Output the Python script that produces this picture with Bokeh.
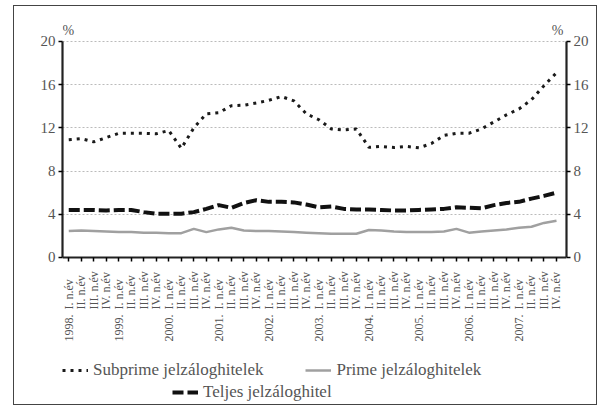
import math
from bokeh.plotting import figure
from bokeh.models import (ColumnDataSource, LinearAxis, FixedTicker, LabelSet,
                          Label, Legend, LegendItem, Range1d)
from bokeh.embed import file_html
from bokeh.resources import INLINE

# ---- data ----
years = ["1998.", "1999.", "2000.", "2001.", "2002.", "2003.", "2004.", "2005.", "2006.", "2007."]
quarters = ["I. n.év", "II. n.év", "III. n.év", "IV. n.év"]

subprime = [10.9, 11.0, 10.7, 11.1, 11.5, 11.5, 11.5, 11.45, 11.75, 10.1,
            12.0, 13.3, 13.4, 14.05, 14.1, 14.3, 14.55, 14.9, 14.5, 13.3,
            12.75, 11.9, 11.8, 11.9, 10.2, 10.28, 10.18, 10.28, 10.15, 10.55,
            11.3, 11.5, 11.5, 11.9, 12.55, 13.2, 13.75, 14.6, 15.9, 17.1]
prime = [2.45, 2.5, 2.45, 2.4, 2.35, 2.35, 2.3, 2.3, 2.25, 2.25,
         2.65, 2.35, 2.6, 2.75, 2.5, 2.45, 2.45, 2.4, 2.35, 2.3,
         2.25, 2.2, 2.2, 2.2, 2.55, 2.5, 2.4, 2.35, 2.35, 2.35,
         2.4, 2.65, 2.3, 2.4, 2.5, 2.6, 2.75, 2.85, 3.2, 3.4]
teljes = [4.4, 4.4, 4.4, 4.35, 4.4, 4.4, 4.2, 4.05, 4.05, 4.05,
          4.2, 4.5, 4.85, 4.6, 5.05, 5.3, 5.15, 5.15, 5.1, 4.9,
          4.65, 4.72, 4.5, 4.45, 4.45, 4.4, 4.35, 4.35, 4.4, 4.45,
          4.5, 4.65, 4.6, 4.55, 4.85, 5.05, 5.15, 5.45, 5.7, 6.0]
y_ticks = [0, 4, 8, 12, 16, 20]
series_names = ["Subprime jelzáloghitelek", "Prime jelzáloghitelek", "Teljes jelzáloghitel"]

FONT = "Liberation Serif"
TXT = "#555555"

n = len(subprime)
xs = list(range(n))
x_lo, x_hi = -0.5, n - 0.2
y_lo, y_hi = 0, 20
# the frame extends below the axis so that labels and legend live inside it
view_lo, view_hi = -13.61, 22.31

src = ColumnDataSource(dict(x=xs, sub=subprime, pri=prime, tel=teljes))

p = figure(width=584, height=400, output_backend="svg", toolbar_location=None,
           x_range=Range1d(x_lo, x_hi), y_range=Range1d(view_lo, view_hi),
           min_border_left=48, min_border_right=32, min_border_top=10, min_border_bottom=2)
p.margin = (5, 0, 0, 13)
p.styles = {"border": "1px solid #444444"}
p.outline_line_color = None
p.background_fill_color = "white"
p.border_fill_color = "white"

# lines
r_sub = p.line("x", "sub", source=src, line_color="#1a1a1a", line_width=3,
               line_dash="3 5")
r_pri = p.line("x", "pri", source=src, line_color="#a0a0a0", line_width=2.5)
r_tel = p.line("x", "tel", source=src, line_color="#111111", line_width=4,
               line_dash="11 4")

# y axes
ytick = FixedTicker(ticks=y_ticks)
p.yaxis.ticker = ytick
ax_r = LinearAxis(ticker=ytick)
p.add_layout(ax_r, "right")
for ax in (p.yaxis[0], ax_r):
    ax.bounds = (y_lo, y_hi)
    ax.axis_line_width = 2.2
    ax.axis_line_color = "#222222"
    ax.major_tick_in = 0
    ax.major_tick_out = 4
    ax.major_tick_line_width = 1.5
    ax.minor_tick_line_color = None
    ax.major_label_text_font = FONT
    ax.major_label_text_font_size = "15px"
    ax.major_label_text_color = TXT
    ax.major_label_standoff = 3

# grid
p.xgrid.visible = False
p.ygrid.ticker = ytick
p.ygrid.grid_line_color = "#bbbbbb"
p.ygrid.grid_line_dash = "2 2"
p.ygrid.grid_line_width = 1

# x axis (ticks), drawn at y = 0
xax = p.xaxis[0]
xax.fixed_location = y_lo
xax.ticker = FixedTicker(ticks=xs)
xax.major_label_overrides = {i: "" for i in xs}
xax.bounds = (x_lo, x_hi)
xax.axis_line_width = 2.2
xax.axis_line_color = "#222222"
xax.major_tick_in = 0
xax.major_tick_out = 4
xax.major_tick_line_width = 1.5
xax.minor_tick_line_color = None

# quarter labels (start-aligned, reading upward)
qsrc = ColumnDataSource(dict(x=xs, y=[y_lo] * n, t=[quarters[i % 4] for i in xs]))
p.add_layout(LabelSet(x="x", y="y", text="t", source=qsrc, angle=math.pi / 2,
                      text_align="left", text_baseline="middle", y_offset=-52,
                      text_font=FONT, text_font_size="12px", text_color=TXT))

# year axis
year_x = [i for i in xs if i % 4 == 0]
yax = LinearAxis(ticker=FixedTicker(ticks=year_x), fixed_location=y_lo,
                 major_label_overrides={x: years[k] for k, x in enumerate(year_x)})
yax.axis_line_color = None
yax.major_tick_line_color = None
yax.major_tick_out = 0
yax.major_tick_in = 0
yax.minor_tick_line_color = None
yax.major_label_orientation = math.pi / 2
yax.major_label_standoff = 57
yax.major_label_text_font = FONT
yax.major_label_text_font_size = "12px"
yax.major_label_text_color = TXT
p.add_layout(yax, "below")

# % labels
p.add_layout(Label(x=x_lo, y=y_hi, text="%", x_offset=0, y_offset=3, text_align="left",
                   text_baseline="bottom", text_font=FONT, text_font_size="14px", text_color=TXT))
p.add_layout(Label(x=x_hi, y=y_hi, text="%", x_offset=-3, y_offset=3, text_align="right",
                   text_baseline="bottom", text_font=FONT, text_font_size="14px", text_color=TXT))

# legends
def mk_legend(items, loc):
    return Legend(items=items, location=loc, orientation="horizontal",
                  label_text_font=FONT, label_text_font_size="17px", label_text_color=TXT,
                  glyph_width=26, label_height=18, glyph_height=18, label_standoff=5,
                  spacing=42, padding=0, margin=0,
                  border_line_color=None, background_fill_alpha=0)

lg1 = mk_legend([LegendItem(label=series_names[0], renderers=[r_sub]),
                 LegendItem(label=series_names[1], renderers=[r_pri])], (0, 24))
lg2 = mk_legend([LegendItem(label=series_names[2], renderers=[r_tel])], (110, 2))
p.add_layout(lg1, "center")
p.add_layout(lg2, "center")

open("out.html", "w").write(file_html(p, INLINE))
